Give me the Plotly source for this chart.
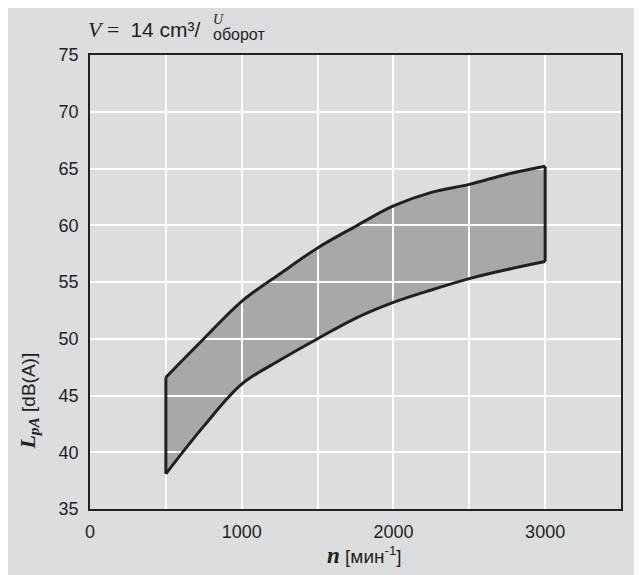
import plotly.graph_objects as go

# ---- data ----
rpm = [500, 750, 1000, 1250, 1500, 1750, 2000, 2250, 2500, 2750, 3000]
level_upper = [46.6, 50.0, 53.3, 55.7, 58.0, 59.9, 61.7, 62.9, 63.6, 64.5, 65.2]
level_lower = [38.1, 42.3, 46.0, 48.1, 50.0, 51.8, 53.2, 54.3, 55.3, 56.1, 56.8]

x_ticks = [0, 500, 1000, 1500, 2000, 2500, 3000, 3500]
x_tick_labels = ["0", "", "1000", "", "2000", "", "3000", ""]
y_ticks = [35, 40, 45, 50, 55, 60, 65, 70, 75]
y_tick_labels = ["35", "40", "45", "50", "55", "60", "65", "70", "75"]

BG = "#dcdddf"
FILL = "#a7a8ab"
INK = "#231f20"
SANS = "Liberation Sans, Arial, sans-serif"
SERIF = "Liberation Serif, Times New Roman, serif"

fig = go.Figure()

# band fill (subplot 1, below the grid)
fig.add_trace(go.Scatter(x=rpm, y=level_lower, mode="lines", line=dict(width=0, shape="spline", color=FILL),
                         xaxis="x", yaxis="y", showlegend=False, hoverinfo="skip"))
fig.add_trace(go.Scatter(x=rpm, y=level_upper, mode="lines", line=dict(width=0, shape="spline", color=FILL),
                         fill="tonexty", fillcolor=FILL, xaxis="x", yaxis="y", showlegend=False, hoverinfo="skip"))

# outlines (subplot 2, above the grid)
fig.add_trace(go.Scatter(x=rpm, y=level_upper, mode="lines", line=dict(width=3, shape="spline", color=INK),
                         xaxis="x2", yaxis="y2", showlegend=False))
fig.add_trace(go.Scatter(x=rpm, y=level_lower, mode="lines", line=dict(width=3, shape="spline", color=INK),
                         xaxis="x2", yaxis="y2", showlegend=False))
fig.add_trace(go.Scatter(x=[rpm[0], rpm[0], None, rpm[-1], rpm[-1]],
                         y=[level_lower[0], level_upper[0], None, level_lower[-1], level_upper[-1]],
                         mode="lines", line=dict(width=3, color=INK),
                         xaxis="x2", yaxis="y2", showlegend=False))

hidden = dict(visible=False, showgrid=False, zeroline=False, fixedrange=True)
fig.update_layout(
    width=642, height=575,
    margin=dict(l=82, r=29, t=47, b=74),
    paper_bgcolor=BG,
    plot_bgcolor="rgba(0,0,0,0)",
    showlegend=False,
    font=dict(family=SANS, size=18, color=INK),
    xaxis=dict(range=[0, 3500], domain=[0, 1], anchor="y", **hidden),
    yaxis=dict(range=[35, 75], domain=[0, 1], anchor="x", **hidden),
    xaxis2=dict(range=[0, 3500], domain=[0, 1], anchor="y2",
                tickvals=x_ticks, ticktext=x_tick_labels, ticks="", ticklabelstandoff=6,
                showgrid=True, gridcolor="white", gridwidth=2, zeroline=False,
                showline=True, mirror=True, linecolor=INK, linewidth=1.5,
                tickfont=dict(family=SANS, size=18, color=INK)),
    yaxis2=dict(range=[35, 75], domain=[0, 1], anchor="x2",
                tickvals=y_ticks, ticktext=y_tick_labels, ticks="", ticklabelstandoff=6,
                showgrid=True, gridcolor="white", gridwidth=2, zeroline=False,
                showline=True, mirror=True, linecolor=INK, linewidth=1.5,
                tickfont=dict(family=SANS, size=18, color=INK)),
)

ann = []
# title
ann.append(dict(xref="paper", yref="paper", x=-0.008, y=1.057, xanchor="left", yanchor="middle", showarrow=False,
                text="<span style='font-family:Liberation Serif;font-size:22px'><i>V</i>\u00a0=\u00a0\u00a0</span>14 cm³/",
                font=dict(family=SANS, size=21, color=INK)))
ann.append(dict(xref="paper", yref="paper", x=0.2280, y=1.078, xanchor="left", yanchor="middle", showarrow=False,
                text="<i>U</i>", font=dict(family=SERIF, size=14, color=INK)))
ann.append(dict(xref="paper", yref="paper", x=0.2280, y=1.046, xanchor="left", yanchor="middle", showarrow=False,
                text="оборот", font=dict(family=SANS, size=16, color=INK)))
# axis titles
ann.append(dict(xref="paper", yref="paper", x=0.5176, y=-0.1023, xanchor="center", yanchor="middle", showarrow=False,
                text="<span style='font-family:Liberation Serif;font-size:23px'><b><i>n</i></b></span> [мин<sup>-1</sup>]",
                font=dict(family=SANS, size=19, color=INK)))
ann.append(dict(xref="paper", yref="paper", x=-0.1155, y=0.238, xanchor="center", yanchor="middle", showarrow=False,
                textangle=-90,
                text="<span style='font-family:Liberation Serif;font-size:22px'><b><i>L<sub>pA</sub></i></b></span> [dB(A)]",
                font=dict(family=SANS, size=19, color=INK)))
fig.update_layout(annotations=ann)

fig.write_html("out.html")
